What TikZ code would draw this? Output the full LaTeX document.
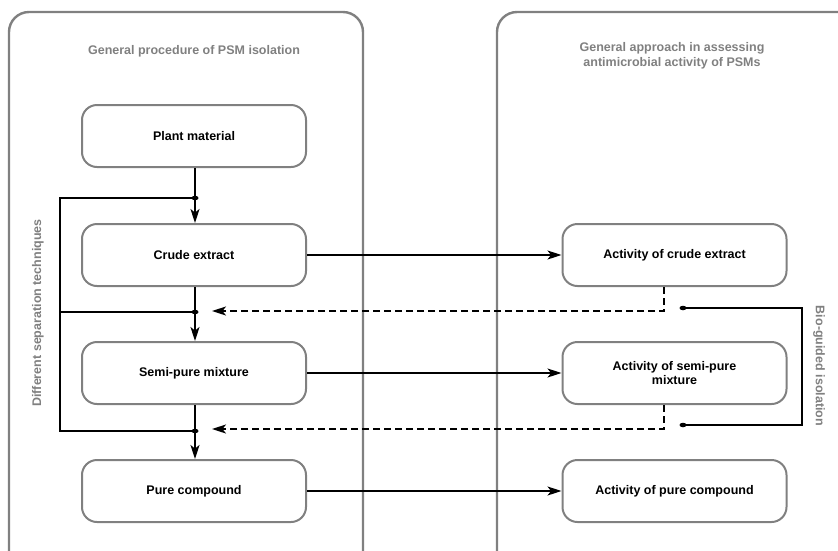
\documentclass[tikz,border=0pt]{standalone}
\usepackage{fontspec}
\setmainfont{Liberation Sans}
\usetikzlibrary{arrows.meta,shapes.geometric}
\definecolor{framegray}{RGB}{128,128,128}
\tikzstyle{panel}=[draw=framegray, line width=2.4pt, rounded corners=20pt]
\tikzstyle{stage}=[rectangle, draw=framegray, line width=2pt, rounded corners=15pt, minimum width=224pt, minimum height=62pt, align=center, font=\bfseries\fontsize{12.5}{14.5}\selectfont]
\tikzstyle{heading}=[text=framegray, align=center, font=\bfseries\fontsize{12.5}{14.5}\selectfont]
\tikzstyle{junction}=[ellipse, fill=black, inner sep=0pt, minimum width=7pt, minimum height=4.5pt]
\tikzstyle{flow}=[line width=1.5pt, -{Stealth[length=14pt,width=9pt,inset=3.5pt]}]
\tikzstyle{feedback}=[line width=1.5pt, dash pattern=on 7pt off 4pt, -{Stealth[length=14pt,width=9pt,inset=3.5pt]}]

\begin{document}
\begin{tikzpicture}[x=1pt, y=-1pt]
    \clip (0,0) rectangle (838,550);
    % panels
    \draw[panel] (9,12) rectangle (363,580);
    \draw[panel] (497,12) rectangle (870,580);
    \node[heading] (lefttitle)  at (194,51) {General procedure of PSM isolation};
    \node[heading] (righttitle) at (672,56) {General approach in assessing\\antimicrobial activity of PSMs};
    \node[heading, rotate=90]  (septext) at (38,313)  {Different separation techniques};
    \node[heading, rotate=-90] (biotext) at (819,366) {Bio-guided isolation};
    % isolation steps
    \node[stage] (plant) at (194,136) {Plant material};
    \node[stage] (crude) at (194,255) {Crude extract};
    \node[stage] (semi)  at (194,373) {Semi-pure mixture};
    \node[stage] (pure)  at (194,491) {Pure compound};
    % activity steps
    \node[stage] (actcrude) at (674.5,255) {Activity of crude extract};
    \node[stage] (actsemi)  at (674.5,373) {Activity of semi-pure\\mixture};
    \node[stage] (actpure)  at (674.5,491) {Activity of pure compound};
    % junctions
    \node[junction] (j1) at (195,198) {};
    \node[junction] (j2) at (195,312) {};
    \node[junction] (j3) at (195,431) {};
    \node[junction] (b1) at (683,308) {};
    \node[junction] (b2) at (683,425) {};
    \coordinate (l1) at (60,198);
    \coordinate (l2) at (60,312);
    \coordinate (l3) at (60,431);
    \coordinate (d1) at (212,311);
    \coordinate (d2) at (212,429);
    \coordinate (bioright) at (802,366);
    % main flow
    \draw[flow] (plant.south -| j1) -- (crude.north -| j1);
    \draw[flow] (crude.south -| j2) -- (semi.north -| j2);
    \draw[flow] (semi.south -| j3) -- (pure.north -| j3);
    \draw[line width=1.5pt] (j1.center) -- (l1) -- (l3) -- (j3.center);
    \draw[line width=1.5pt] (l2) -- (j2.center);
    \draw[flow] (crude) -- (actcrude);
    \draw[flow] (semi) -- (actsemi);
    \draw[flow] (pure) -- (actpure);
    % bio-guided loop
    \draw[feedback] ([xshift=-10.5pt]actcrude.south) |- (d1);
    \draw[feedback] ([xshift=-10.5pt]actsemi.south) |- (d2);
    \draw[line width=1.5pt] (b1.center) -| (bioright) |- (b2.center);
\end{tikzpicture}
\end{document}
